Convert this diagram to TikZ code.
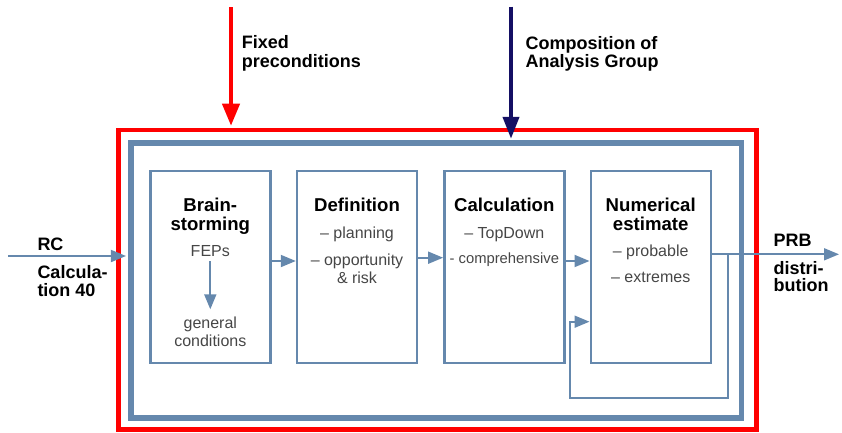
\documentclass[tikz,border=0pt]{standalone}
\usepackage{fontspec}
\setmainfont{Liberation Sans}
\usetikzlibrary{arrows.meta,calc}
\definecolor{steel}{RGB}{101,136,173}
\definecolor{navy}{RGB}{20,15,100}
\definecolor{subgray}{RGB}{70,70,70}
\definecolor{signalred}{RGB}{255,0,0}

\begin{document}
\begin{tikzpicture}[x=1pt,y=-1pt,
  stepbox/.style={draw=steel, line width=2.4pt, minimum width=120pt,
    minimum height=191.5pt, inner sep=0pt},
  titletext/.style={font=\fontsize{18.6}{18.6}\selectfont\bfseries, anchor=base, inner sep=0pt},
  sidetext/.style={font=\fontsize{18}{18}\selectfont\bfseries, anchor=base west, inner sep=0pt},
  subtext/.style={font=\fontsize{16}{16}\selectfont, text=subgray, anchor=base, inner sep=0pt},
  flowarrow/.style={draw=steel, line width=1.8pt, -{Triangle[length=15pt,width=12pt]}},
  ]
\useasboundingbox (0,0) rectangle (842,433);

% outer frames
\node[draw=signalred, line width=4.5pt, minimum width=638.4pt, minimum height=299.5pt,
  inner sep=0pt] (frame) at (437.5,279.75) {};
\node[draw=steel, line width=5.5pt, minimum width=610.3pt, minimum height=275pt,
  inner sep=0pt] (stage) at (436.35,280.5) {};

% process steps
\node[stepbox] (bs)  at (210.3,267) {};
\node[stepbox] (def) at (357,267) {};
\node[stepbox] (calc) at (504.3,267) {};
\node[stepbox] (num) at (650.7,267) {};

% step texts
\node[titletext] (bs1) at (210.3,211.7) {Brain-};
\node[titletext] (bs2) at (210.3,230) {storming};
\node[subtext] (feps) at (210.3,256.7) {FEPs};
\node[subtext] (gen) at (210.3,328.3) {general};
\node[subtext] (cond) at (210.3,346.7) {conditions};

\node[titletext] (def1) at (357,211.7) {Definition};
\node[subtext] (def2) at (357,238.3) {– planning};
\node[subtext] (def3) at (357,265) {– opportunity};
\node[subtext] (def4) at (357,283.3) {\& risk};

\node[titletext] (calc1) at (504.3,211.7) {Calculation};
\node[subtext] (calc2) at (504.3,238.3) {– TopDown};
\node[subtext, font=\fontsize{14.8}{14.8}\selectfont] (calc3) at (504.3,263.3) {- comprehensive};

\node[titletext] (num1) at (650.7,211.7) {Numerical};
\node[titletext] (num2) at (650.7,230) {estimate};
\node[subtext] (num3) at (650.7,256.7) {– probable};
\node[subtext] (num4) at (650.7,282.7) {– extremes};

% side labels
\node[sidetext] (fix1) at (241.7,49) {Fixed};
\node[sidetext] (fix2) at (241.7,68) {preconditions};
\node[sidetext] (comp1) at (525.3,49.3) {Composition of};
\node[sidetext] (comp2) at (525.3,67.5) {Analysis Group};
\node[sidetext] (rc1) at (37.3,250.7) {RC};
\node[sidetext] (rc2) at (37.3,278.3) {Calcula-};
\node[sidetext] (rc3) at (37.3,296.7) {tion 40};
\node[sidetext] (prb1) at (773.3,246.7) {PRB};
\node[sidetext] (prb2) at (773.3,274) {distri-};
\node[sidetext] (prb3) at (773.3,291.7) {bution};

% incoming conditions
\coordinate (fixtop) at (231,7.3);
\coordinate (comptop) at (511,6.7);
\draw[signalred, line width=4pt, -{Triangle[length=22pt,width=17pt]}, shorten >=2pt]
  (fixtop) -- (fixtop |- frame.north);
\draw[navy, line width=4pt, -{Triangle[length=22pt,width=16pt]}, shorten >=1.5pt]
  (comptop) -- (comptop |- stage.north);

% flow
\coordinate (rcin) at (8.3,256);
\draw[flowarrow, shorten >=2.5pt] (rcin) -- (rcin -| stage.west);
\draw[flowarrow] ([yshift=6pt]bs.east) -- ([yshift=6pt]def.west);
\draw[flowarrow] ([yshift=9.3pt]def.east) -- ([yshift=9.3pt]calc.west);
\draw[flowarrow] ([yshift=6pt]calc.east) -- ([yshift=6pt]num.west);
\draw[flowarrow] ([yshift=-4.5pt]feps.base) -- ([yshift=19pt]gen.base);

\coordinate (prbout) at (839,254.3);
\draw[flowarrow] ([yshift=12.7pt]num.east) -- (prbout);
\coordinate (split) at (727.7,254.3);
\coordinate (loopcorner) at (570.3,398.3);
\draw[flowarrow] (split) |- (loopcorner) |- ([yshift=-54.7pt]num.west);
\end{tikzpicture}
\end{document}
